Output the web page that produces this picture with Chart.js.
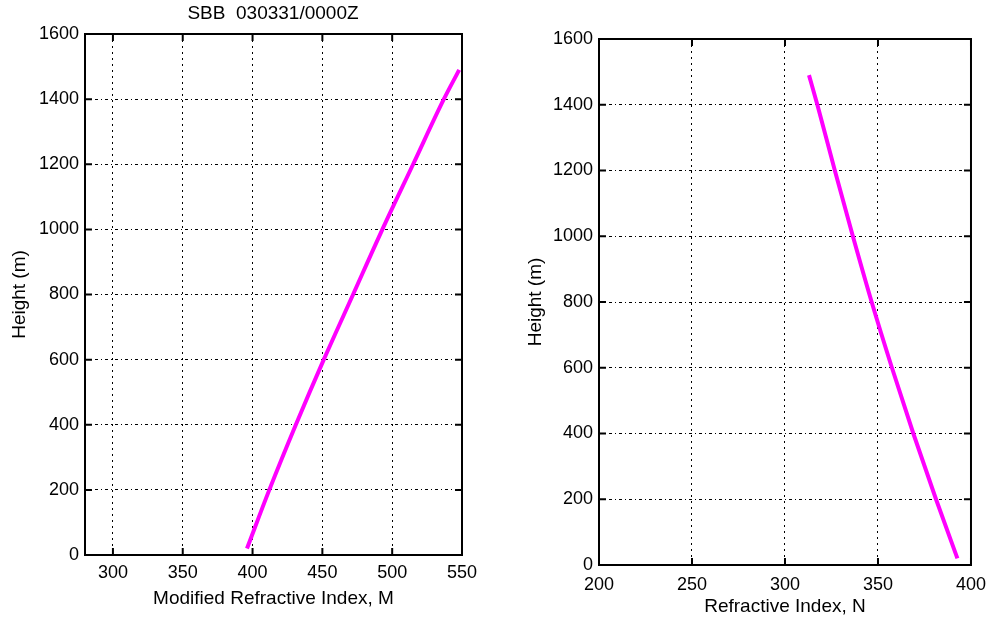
<!DOCTYPE html>
<html>
<head>
<meta charset="utf-8">
<script src="https://cdn.jsdelivr.net/npm/chart.js@4/dist/chart.umd.min.js"></script>
<style>
    html, body { margin: 0; padding: 0; background: #fff; }
    #wrap { position: relative; width: 995px; height: 624px; }
    canvas { position: absolute; top: 0; }
    #chartM { left: 0; }
    #chartN { left: 497px; }
</style>
</head>
<body>
<div id="wrap">
    <canvas id="chartN" width="498" height="624"></canvas>
    <canvas id="chartM" width="546" height="624"></canvas>
</div>
<script>
// left panel: modified refractive index M
const heightsM = [20, 200, 400, 600, 800, 1000, 1200, 1400, 1490];
const valoresM = [396, 412, 431, 451, 472, 493, 515, 537, 548];
const ticksM = [300, 350, 400, 450, 500, 550];

// right panel: refractive index N
const heightsN = [20, 200, 400, 600, 800, 1000, 1200, 1400, 1490];
const valoresN = [392.7, 381.2, 369, 357.5, 346.6, 336.5, 326.8, 317.4, 312.9];
const ticksN = [200, 250, 300, 350, 400];

const ticksHeight = [0, 200, 400, 600, 800, 1000, 1200, 1400, 1600];

const tituloM = 'SBB  030331/0000Z';

Chart.defaults.font.family = '"Liberation Sans", Arial, sans-serif';
Chart.defaults.font.size = 18;
Chart.defaults.color = '#000';

const TICK = 7;

// MATLAB style box with inward ticks on all four sides
const framePlugin = {
    id: 'frame',
    afterDraw(chart) {
        const { ctx, chartArea: a, scales } = chart;
        ctx.save();
        ctx.strokeStyle = '#000';
        ctx.lineWidth = 2;
        ctx.setLineDash([]);
        ctx.strokeRect(a.left, a.top, a.right - a.left, a.bottom - a.top);
        ctx.beginPath();
        for (const t of scales.x.ticks) {
            const px = scales.x.getPixelForValue(t.value);
            ctx.moveTo(px, a.bottom);
            ctx.lineTo(px, a.bottom - TICK);
            ctx.moveTo(px, a.top);
            ctx.lineTo(px, a.top + TICK);
        }
        for (const t of scales.y.ticks) {
            const py = scales.y.getPixelForValue(t.value);
            ctx.moveTo(a.left, py);
            ctx.lineTo(a.left + TICK, py);
            ctx.moveTo(a.right, py);
            ctx.lineTo(a.right - TICK, py);
        }
        ctx.stroke();
        ctx.restore();
    }
};

function toPoints(xs, ys) {
    return xs.map((x, i) => ({ x: x, y: ys[i] }));
}

function buildConfig(opts) {
    return {
        type: 'scatter',
        data: {
            datasets: [{
                data: toPoints(opts.xs, opts.ys),
                showLine: true,
                borderColor: '#ff00ff',
                borderWidth: 4,
                pointRadius: 0,
                fill: false,
                cubicInterpolationMode: 'monotone',
                indexAxis: 'y',
            }],
        },
        options: {
            responsive: false,
            animation: false,
            devicePixelRatio: 1,
            layout: { padding: opts.padding },
            plugins: {
                legend: { display: false },
                tooltip: { enabled: false },
                title: opts.title,
            },
            scales: {
                x: {
                    type: 'linear',
                    min: opts.xMin,
                    max: opts.xMax,
                    afterBuildTicks: (s) => { s.ticks = opts.xTicks.map((v) => ({ value: v })); },
                    afterFit: (s) => { s.height = opts.xHeight; },
                    grid: { color: '#000', lineWidth: 1, drawTicks: false },
                    border: { display: false, dash: [2, 4] },
                    ticks: {
                        padding: opts.xPad, maxRotation: 0, autoSkip: false,
                        callback: (v) => String(v),
                    },
                    title: {
                        display: true,
                        text: opts.xTitle,
                        font: { size: 19, lineHeight: 1.2 },
                        padding: { top: 0, bottom: opts.xTitlePad },
                    },
                },
                y: {
                    type: 'linear',
                    min: 0,
                    max: 1600,
                    afterBuildTicks: (s) => { s.ticks = ticksHeight.map((v) => ({ value: v })); },
                    afterFit: (s) => { s.width = opts.yWidth; },
                    grid: { color: '#000', lineWidth: 1, drawTicks: false },
                    border: { display: false, dash: [3, 3, 1, 3] },
                    ticks: { padding: 6, autoSkip: false, callback: (v) => String(v) },
                    title: {
                        display: true,
                        text: 'Height (m)',
                        font: { size: 19, lineHeight: 1.2 },
                        padding: { top: opts.yTitlePad, bottom: 0 },
                    },
                },
                // empty axis on the right, only reserves the margin
                yR: {
                    type: 'linear',
                    position: 'right',
                    min: 0,
                    max: 1600,
                    afterFit: (s) => { s.width = opts.rightWidth; },
                    grid: { display: false },
                    border: { display: false },
                    ticks: { display: false },
                },
            },
        },
        plugins: [framePlugin],
    };
}

new Chart(document.getElementById('chartM'), buildConfig({
    xs: valoresM,
    ys: heightsM,
    xMin: 280,
    xMax: 550,
    xTicks: ticksM,
    xTitle: 'Modified Refractive Index, M',
    padding: { left: 0, right: 0, top: 0, bottom: 0 },
    rightWidth: 84,
    xHeight: 69,
    yWidth: 85,
    xPad: 7,
    xTitlePad: 14,
    yTitlePad: 8,
    title: {
        display: true,
        text: tituloM,
        color: '#000',
        font: { size: 19, weight: 'normal', lineHeight: 1.2 },
        padding: { top: 2, bottom: 9.2 },
    },
}));

new Chart(document.getElementById('chartN'), buildConfig({
    xs: valoresN,
    ys: heightsN,
    xMin: 200,
    xMax: 400,
    xTicks: ticksN,
    xTitle: 'Refractive Index, N',
    padding: { left: 0, right: 0, top: 39, bottom: 0 },
    rightWidth: 17,
    xHeight: 59,
    yWidth: 102,
    xPad: 9,
    xTitlePad: 6,
    yTitlePad: 27,
    title: { display: false },
}));
</script>
</body>
</html>
